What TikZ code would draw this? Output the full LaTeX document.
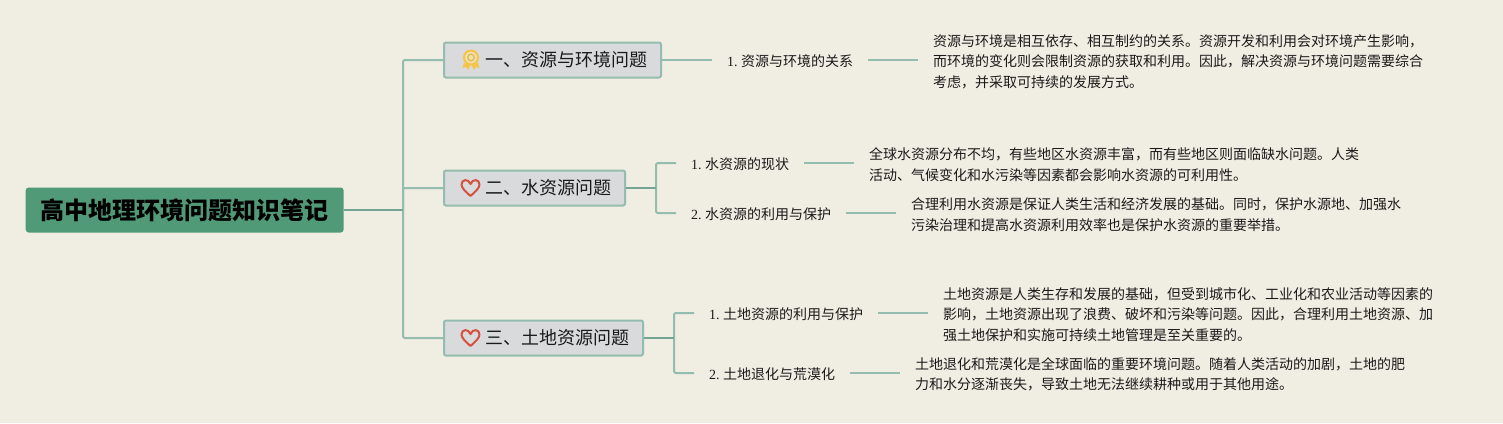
\documentclass[tikz,border=0pt]{standalone}
\usepackage{fontspec}
\usetikzlibrary{positioning}
\setmainfont{Liberation Serif}
\newfontfamily\cjk{Noto Sans CJK SC}
\frenchspacing
\definecolor{pagebg}{HTML}{F0EDE2}
\definecolor{rootfill}{HTML}{519A77}
\definecolor{topicfill}{HTML}{D8DADB}
\definecolor{wirecol}{HTML}{94BDB0}
\definecolor{stemcol}{HTML}{74A594}
\definecolor{inkcol}{HTML}{1A1A1A}
\definecolor{medalcol}{HTML}{F4C548}
\definecolor{heartcol}{HTML}{D6503F}
\tikzset{
  rootbox/.style={shape=rectangle, fill=rootfill, rounded corners=3pt, inner xsep=15pt, minimum height=45pt, anchor=west, text=black, font=\fontsize{24}{28}\selectfont\cjk\bfseries},
  topicbox/.style={shape=rectangle, draw=wirecol, line width=2pt, fill=topicfill, rounded corners=2pt, inner xsep=14pt, minimum height=35pt, anchor=west, text=inkcol, font=\fontsize{18}{22}\selectfont\cjk},
  sublabel/.style={inner xsep=15pt, inner ysep=2pt, outer sep=0pt, anchor=west, text=inkcol, font=\fontsize{14}{18}\selectfont},
  notetext/.style={inner xsep=15pt, inner ysep=2pt, outer sep=0pt, anchor=west, align=left, text=inkcol, font=\fontsize{14}{20.5}\selectfont\cjk},
  wire/.style={draw=wirecol, line width=2pt, rounded corners=2pt},
  stem/.style={draw=stemcol, line width=2.4pt},
  hearticon/.pic={
    \draw[heartcol, line width=2pt, line join=round] (0,8) .. controls (-5,3.5) and (-9,0) .. (-9,-3.5) .. controls (-9,-9) and (-2,-9.5) .. (0,-4) .. controls (2,-9.5) and (9,-9) .. (9,-3.5) .. controls (9,0) and (5,3.5) .. (0,8) -- cycle;
  },
  medalicon/.pic={
    \fill[medalcol] (-7,3) -- (-8.5,8) -- (-5,7) -- (-3,10) -- (-0.5,5) -- cycle;
    \fill[medalcol] (7,3) -- (8.5,8) -- (5,7) -- (3,10) -- (0.5,5) -- cycle;
    \draw[medalcol, line width=2pt, fill=medalcol!35!pagebg] (0,-2.5) circle (7);
    \draw[medalcol!80!gray, line width=1.2pt] (0,-2.5) circle (3.3);
  },
}
\newcommand{\iconpad}{\hspace*{27pt}}
\begin{document}
\begin{tikzpicture}[x=1pt, y=-1pt]
     \path[fill=pagebg, use as bounding box] (0,0) rectangle (1503,423);

     \node[rootbox] (root) at (25.5,210) {高中地理环境问题知识笔记};
     \coordinate (trunk) at (403,210);

     \node[topicbox] (resource) at (443,60)  {\iconpad 一、资源与环境问题};
     \node[topicbox] (water)    at (443,188) {\iconpad 二、水资源问题};
     \node[topicbox] (land)     at (443,338) {\iconpad 三、土地资源问题};

     \pic at (471,60) {medalicon};
     \pic at (470.5,188) {hearticon};
     \pic at (470.5,338) {hearticon};

     \node[sublabel] (relation) at (712,61.5) {1. {\cjk 资源与环境的关系}};
     \node[sublabel] (waterstate) at (676,164.5) {1. {\cjk 水资源的现状}};
     \node[sublabel] (wateruse) at (676,214.5) {2. {\cjk 水资源的利用与保护}};
     \node[sublabel] (landuse) at (694,314.5) {1. {\cjk 土地资源的利用与保护}};
     \node[sublabel] (landloss) at (694,374.5) {2. {\cjk 土地退化与荒漠化}};

     \node[notetext] (relationtext) at (918,61.5) {资源与环境是相互依存、相互制约的关系。资源开发和利用会对环境产生影响，\\而环境的变化则会限制资源的获取和利用。因此，解决资源与环境问题需要综合\\考虑，并采取可持续的发展方式。};
     \node[notetext] (waterstatetext) at (854,164.5) {全球水资源分布不均，有些地区水资源丰富，而有些地区则面临缺水问题。人类\\活动、气候变化和水污染等因素都会影响水资源的可利用性。};
     \node[notetext] (waterusetext) at (896,214.5) {合理利用水资源是保证人类生活和经济发展的基础。同时，保护水源地、加强水\\污染治理和提高水资源利用效率也是保护水资源的重要举措。};
     \node[notetext] (landusetext) at (928,314.5) {土地资源是人类生存和发展的基础，但受到城市化、工业化和农业活动等因素的\\影响，土地资源出现了浪费、破坏和污染等问题。因此，合理利用土地资源、加\\强土地保护和实施可持续土地管理是至关重要的。};
     \node[notetext] (landlosstext) at (900,374.5) {土地退化和荒漠化是全球面临的重要环境问题。随着人类活动的加剧，土地的肥\\力和水分逐渐丧失，导致土地无法继续耕种或用于其他用途。};

     \coordinate (waterfork) at (656,188);
     \coordinate (landfork) at (674,338);

     \draw[wire] (trunk) |- (resource.west);
     \draw[wire] (trunk) |- (water.west);
     \draw[wire] (trunk) |- (land.west);
     \draw[stem] (root.east) -- (trunk);

     \draw[wire] (resource.east) -- ([yshift=1.5pt]relation.west);
     \draw[wire] (waterfork) |- ([yshift=1.5pt]waterstate.west);
     \draw[wire] (waterfork) |- ([yshift=1.5pt]wateruse.west);
     \draw[stem] (water.east) -- (waterfork);
     \draw[wire] (landfork) |- ([yshift=1.5pt]landuse.west);
     \draw[wire] (landfork) |- ([yshift=1.5pt]landloss.west);
     \draw[stem] (land.east) -- (landfork);

     \draw[wire] ([yshift=1.5pt]relation.east) -- ([yshift=1.5pt]relationtext.west);
     \draw[wire] ([yshift=1.5pt]waterstate.east) -- ([yshift=1.5pt]waterstatetext.west);
     \draw[wire] ([yshift=1.5pt]wateruse.east) -- ([yshift=1.5pt]waterusetext.west);
     \draw[wire] ([yshift=1.5pt]landuse.east) -- ([yshift=1.5pt]landusetext.west);
     \draw[wire] ([yshift=1.5pt]landloss.east) -- ([yshift=1.5pt]landlosstext.west);
\end{tikzpicture}
\end{document}
